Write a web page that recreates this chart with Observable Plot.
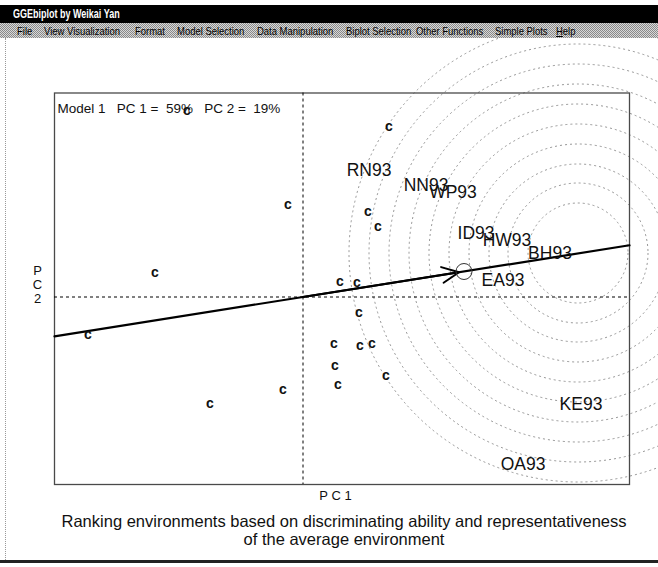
<!DOCTYPE html>
<html><head><meta charset="utf-8">
<script src="https://cdn.jsdelivr.net/npm/d3@7"></script>
<script src="https://cdn.jsdelivr.net/npm/@observablehq/plot@0.6"></script>
<style>
html,body{margin:0;padding:0;background:#fff;width:658px;height:567px;overflow:hidden;}
#win{position:relative;width:658px;height:567px;}
#titlebar{position:absolute;left:0;top:5px;width:658px;height:18px;background:#000;color:#fff;font:bold 12.5px "Liberation Sans",Arial,sans-serif;z-index:3}
#titlebar span{position:absolute;left:13px;top:2px;transform:scaleX(0.72);transform-origin:left center;white-space:nowrap}
#menubar{position:absolute;left:0;top:23px;width:658px;height:15px;background:repeating-conic-gradient(#8a8a8a 0 25%,#d8d8d8 0 50%) 0 0/2px 2px;font:11px "Liberation Sans",Arial,sans-serif;color:#000;z-index:3}
#menubar span{position:absolute;top:2px;transform:scaleX(0.86);transform-origin:left center;white-space:nowrap}
#chart{position:absolute;left:0;top:38px;z-index:1}
#leftborder{position:absolute;left:5px;top:38px;width:0;height:522px;border-left:1px dotted #999;z-index:2}
#bottomline{position:absolute;left:0;top:560px;width:658px;height:3px;background:#222;z-index:2}
svg text{white-space:pre}
</style>
</head>
<body>
<div id="win">
  <div id="titlebar"><span>GGEbiplot by Weikai Yan</span></div>
  <div id="menubar">
    <span style="left:17px">File</span>
    <span style="left:44px">View</span>
    <span style="left:67px">Visualization</span>
    <span style="left:135px">Format</span>
    <span style="left:177px">Model Selection</span>
    <span style="left:257px">Data Manipulation</span>
    <span style="left:346px">Biplot Selection</span>
    <span style="left:416px">Other Functions</span>
    <span style="left:495px">Simple Plots</span>
    <span style="left:556px"><u>H</u>elp</span>
  </div>
  <div id="chart"></div>
  <div id="leftborder"></div>
  <div id="bottomline"></div>
</div>
<script>
// Genotype scores (shown as "c")
const genotypePC1 = [-1.16, 0.86, -0.15, 0.65, 0.75, -1.48, 0.37, 0.54, -2.15, 0.56, 0.31, 0.57, 0.69, 0.32, 0.35, 0.83, -0.2, -0.93];
const genotypePC2 = [1.86, 1.7, 0.92, 0.85, 0.7, 0.24, 0.15, 0.14, -0.38, -0.16, -0.47, -0.49, -0.47, -0.69, -0.88, -0.79, -0.93, -1.07];

// Environment scores
const envNames = ["RN93", "NN93", "WP93", "ID93", "HW93", "BH93", "EA93", "KE93", "OA93"];
const envPC1 = [0.66, 1.23, 1.5, 1.73, 2.04, 2.47, 2.0, 2.78, 2.2];
const envPC2 = [1.27, 1.12, 1.05, 0.64, 0.57, 0.44, 0.17, -1.07, -1.67];

// Average environment, ideal environment and concentric circle radii
const averageEnv = [1.61, 0.255];
const idealEnv = [2.75, 0.44];
const circleRadii = [0.5, 0.7, 0.89, 1.09, 1.29, 1.49, 1.69, 1.89, 2.09, 2.29];

const modelText = "Model 1   PC 1 =  59%   PC 2 =  19%";
const xLabel = "P C 1";
const yLabel = "P\nC\n2";
const captionLines = ["Ranking environments based on discriminating ability and representativeness", "of the average environment"];

const xDomain = [-2.485, 3.265];
const yDomain = [-1.875, 2.04];

const genotypes = genotypePC1.map((x, i) => ({x, y: genotypePC2[i]}));
const envs = envNames.map((name, i) => ({name, x: envPC1[i], y: envPC2[i]}));
const slope = averageEnv[1] / averageEnv[0];
const aecLine = xDomain.map(x => ({x, y: slope * x}));

const chart = Plot.plot({
  width: 658,
  height: 529,
  marginTop: 54.5,
  marginLeft: 54,
  marginRight: 29,
  marginBottom: 83,
  x: {domain: xDomain, axis: null},
  y: {domain: yDomain, axis: null},
  r: {type: "linear", domain: [0, 1], range: [0, 100]},
  style: {fontFamily: "'Liberation Sans', Arial, sans-serif", background: "transparent", overflow: "hidden"},
  marks: [
    Plot.dot(circleRadii, {x: () => idealEnv[0], y: () => idealEnv[1], r: d => d, fill: "none", stroke: "#8a8a8a", strokeWidth: 0.9, strokeDasharray: "2,3"}),
    Plot.frame({stroke: "#4a4a4a", strokeWidth: 1.3}),
    Plot.ruleX([0], {stroke: "#000", strokeDasharray: "3,3", strokeWidth: 1}),
    Plot.ruleY([0], {stroke: "#000", strokeDasharray: "3,3", strokeWidth: 1}),
    Plot.line(aecLine, {x: "x", y: "y", stroke: "#000", strokeWidth: 2.2}),
    Plot.arrow([averageEnv], {x1: () => 0, y1: () => 0, x2: d => d[0], y2: d => d[1], stroke: "#000", strokeWidth: 2, headLength: 14, headAngle: 50, insetEnd: 5}),
    Plot.dot([averageEnv], {x: d => d[0], y: d => d[1], r: 8, fill: "none", stroke: "#333", strokeWidth: 1}),
    Plot.text(genotypes, {x: "x", y: "y", text: () => "c", fontSize: 14, fontWeight: "bold", fill: "#111"}),
    Plot.text(envs, {x: "x", y: "y", text: "name", fontSize: 17.5, fill: "#111"}),
    Plot.text([modelText], {frameAnchor: "top-left", text: d => d, dx: 3, dy: 10, fontSize: 13.5, textAnchor: "start", fill: "#111"}),
    Plot.text([yLabel], {frameAnchor: "left", text: d => d, dx: -17, dy: -4, fontSize: 13, lineHeight: 1.05, textAnchor: "middle", fill: "#111"}),
    Plot.text([xLabel], {frameAnchor: "bottom", text: d => d, dx: -6.5, dy: 15, fontSize: 13, fill: "#111"}),
    Plot.text([captionLines[0]], {frameAnchor: "bottom", text: d => d, dx: 2, dy: 42, fontSize: 16.5, fill: "#111"}),
    Plot.text([captionLines[1]], {frameAnchor: "bottom", text: d => d, dx: 2, dy: 60, fontSize: 16.5, fill: "#111"})
  ]
});
document.getElementById("chart").appendChild(chart);
</script>
</body></html>
